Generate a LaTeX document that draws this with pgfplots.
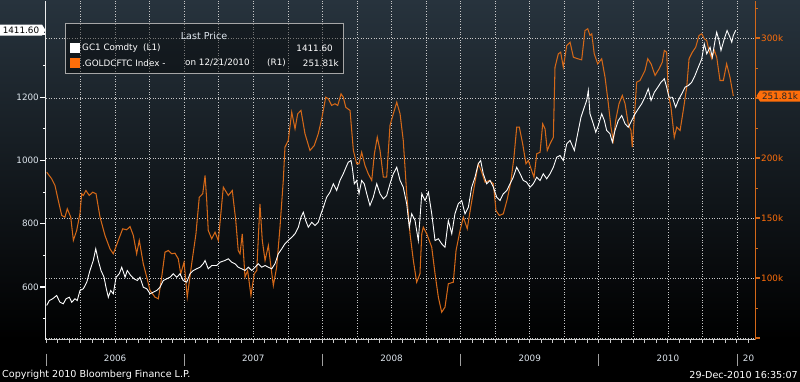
\documentclass[border=0pt]{standalone}
\usepackage{pgfplots}
\pgfplotsset{compat=1.18}
\usepackage{fontspec}
\setmainfont{DejaVu Sans}
\definecolor{bgtop}{RGB}{39,51,61}
\definecolor{cftc}{RGB}{212,104,24}
\definecolor{cftcbright}{RGB}{255,110,10}
\definecolor{gridc}{RGB}{200,200,200}
\definecolor{lbl}{RGB}{222,230,238}
\newcommand{\bbf}{\fontsize{8.8}{10}\selectfont}
\newcommand{\bbft}{\fontsize{9.6}{11}\selectfont}
\pgfplotstableread{
t v
2006.005 541.8
2006.024 557.6
2006.048 563.0
2006.077 573.4
2006.101 552.2
2006.125 547.2
2006.145 563.0
2006.169 568.0
2006.186 552.2
2006.210 563.0
2006.226 557.6
2006.246 589.2
2006.270 594.6
2006.295 615.4
2006.318 652.4
2006.342 684.0
2006.360 721.0
2006.378 684.0
2006.398 652.4
2006.420 631.2
2006.434 599.6
2006.451 568.0
2006.468 589.2
2006.487 578.8
2006.507 631.2
2006.530 642.0
2006.548 662.8
2006.572 631.2
2006.588 652.4
2006.613 636.6
2006.637 626.2
2006.661 620.8
2006.680 631.2
2006.704 599.6
2006.729 594.6
2006.753 578.8
2006.776 583.8
2006.801 589.2
2006.825 599.6
2006.849 620.8
2006.873 626.2
2006.897 631.2
2006.921 642.0
2006.946 631.2
2006.970 642.0
2006.993 620.8
2007.018 615.4
2007.042 642.0
2007.066 652.4
2007.090 657.8
2007.114 662.8
2007.138 673.6
2007.151 684.0
2007.174 657.8
2007.199 668.2
2007.235 668.2
2007.259 678.6
2007.295 684.0
2007.319 689.4
2007.344 678.6
2007.368 673.6
2007.391 662.8
2007.416 657.8
2007.440 652.4
2007.464 662.8
2007.488 652.4
2007.512 662.8
2007.536 673.6
2007.561 662.8
2007.585 668.2
2007.609 662.8
2007.633 657.8
2007.657 673.6
2007.681 705.2
2007.706 721.0
2007.729 736.8
2007.753 747.2
2007.778 757.6
2007.802 768.4
2007.826 789.2
2007.845 820.8
2007.862 836.6
2007.879 810.4
2007.898 789.2
2007.923 805.0
2007.946 794.6
2007.970 805.0
2007.990 831.6
2008.007 852.4
2008.031 884.0
2008.055 899.8
2008.079 926.4
2008.103 905.2
2008.127 936.8
2008.151 958.0
2008.171 978.8
2008.187 994.6
2008.207 1000.0
2008.216 978.8
2008.231 926.4
2008.248 936.8
2008.265 894.8
2008.284 936.8
2008.303 926.4
2008.321 894.8
2008.344 857.8
2008.368 884.0
2008.393 926.4
2008.417 894.8
2008.441 879.0
2008.465 889.4
2008.489 926.4
2008.513 958.0
2008.538 978.8
2008.562 936.8
2008.585 915.6
2008.610 863.2
2008.629 789.2
2008.646 831.6
2008.670 810.4
2008.694 747.2
2008.719 894.8
2008.743 873.6
2008.767 899.8
2008.791 831.6
2008.815 747.2
2008.839 752.6
2008.863 736.8
2008.887 726.0
2008.911 810.4
2008.936 768.4
2008.959 831.6
2008.983 863.2
2009.008 873.6
2009.032 831.6
2009.056 852.4
2009.080 915.6
2009.104 947.2
2009.128 989.6
2009.145 1000.0
2009.164 958.0
2009.189 926.4
2009.213 936.8
2009.237 915.6
2009.261 884.0
2009.285 873.6
2009.309 894.8
2009.334 905.2
2009.358 926.4
2009.381 947.2
2009.406 978.8
2009.430 958.0
2009.454 936.8
2009.478 931.4
2009.502 915.6
2009.526 926.4
2009.551 947.2
2009.575 936.8
2009.598 958.0
2009.623 942.2
2009.647 958.0
2009.671 978.8
2009.695 1010.4
2009.719 1015.8
2009.743 1000.0
2009.768 1052.8
2009.792 1063.2
2009.823 1031.6
2009.847 1084.4
2009.871 1136.8
2009.895 1168.4
2009.912 1189.6
2009.924 1221.2
2009.936 1147.6
2009.960 1116.0
2009.978 1089.4
2009.996 1110.6
2010.021 1147.6
2010.040 1126.4
2010.057 1094.8
2010.081 1084.4
2010.098 1057.8
2010.117 1094.8
2010.141 1126.4
2010.166 1142.2
2010.190 1116.0
2010.213 1105.2
2010.238 1126.4
2010.262 1147.6
2010.286 1163.4
2010.310 1179.2
2010.334 1200.0
2010.358 1226.6
2010.378 1189.6
2010.402 1215.8
2010.427 1231.6
2010.450 1247.4
2010.474 1258.2
2010.491 1231.6
2010.508 1200.0
2010.532 1200.0
2010.556 1168.4
2010.575 1189.6
2010.600 1210.8
2010.624 1231.6
2010.648 1237.0
2010.672 1247.4
2010.696 1268.6
2010.720 1294.8
2010.745 1321.4
2010.763 1368.8
2010.781 1337.2
2010.805 1358.0
2010.821 1326.4
2010.841 1379.2
2010.853 1405.4
2010.870 1379.2
2010.884 1347.6
2010.908 1384.6
2010.928 1410.8
2010.949 1389.6
2010.962 1373.8
2010.973 1395.0
2010.991 1411.6
}\goldtable
\pgfplotstableread{
t r
2006.005 188.2
2006.041 182.7
2006.065 177.1
2006.089 164.6
2006.114 152.1
2006.137 150.7
2006.154 157.7
2006.179 150.7
2006.198 131.3
2006.222 139.6
2006.246 153.8
2006.258 170.2
2006.270 168.8
2006.289 172.9
2006.313 168.8
2006.338 171.5
2006.362 170.2
2006.391 150.7
2006.427 135.4
2006.463 124.3
2006.487 120.2
2006.523 131.3
2006.555 141.0
2006.584 140.2
2006.608 142.9
2006.632 135.4
2006.656 120.2
2006.675 131.3
2006.704 111.8
2006.729 100.7
2006.753 89.6
2006.789 84.0
2006.813 82.7
2006.837 100.7
2006.861 121.5
2006.885 122.9
2006.910 120.2
2006.933 120.7
2006.957 116.0
2006.975 103.5
2006.999 113.2
2007.022 84.0
2007.054 111.8
2007.085 136.8
2007.109 167.3
2007.134 170.2
2007.151 185.4
2007.163 164.6
2007.174 139.6
2007.199 132.7
2007.223 138.2
2007.247 131.3
2007.283 175.7
2007.319 168.8
2007.348 172.9
2007.373 147.9
2007.391 122.9
2007.404 120.2
2007.420 136.8
2007.440 100.7
2007.459 106.3
2007.483 85.4
2007.507 103.5
2007.525 106.3
2007.548 161.8
2007.565 131.3
2007.585 114.6
2007.609 127.1
2007.628 109.0
2007.645 93.8
2007.669 109.0
2007.693 142.3
2007.717 181.3
2007.729 209.0
2007.753 214.6
2007.778 238.2
2007.802 224.3
2007.821 236.8
2007.845 239.6
2007.874 220.2
2007.910 206.3
2007.941 210.4
2007.970 220.2
2007.995 232.7
2008.024 250.7
2008.043 249.3
2008.067 243.8
2008.091 245.2
2008.111 243.8
2008.135 253.5
2008.151 250.7
2008.169 242.3
2008.200 239.6
2008.224 206.3
2008.248 195.2
2008.265 195.2
2008.284 204.8
2008.308 193.8
2008.332 186.8
2008.357 181.3
2008.376 203.5
2008.397 217.3
2008.417 206.3
2008.441 184.0
2008.465 184.0
2008.489 227.1
2008.513 236.8
2008.538 246.5
2008.562 236.8
2008.585 214.6
2008.610 170.2
2008.634 136.8
2008.658 114.6
2008.682 96.5
2008.706 103.5
2008.719 136.8
2008.730 142.3
2008.755 136.8
2008.791 125.7
2008.815 103.5
2008.839 84.0
2008.863 71.5
2008.887 75.7
2008.911 95.2
2008.947 96.5
2008.967 122.9
2008.996 139.6
2009.020 150.7
2009.048 141.0
2009.073 159.0
2009.104 179.8
2009.128 195.2
2009.153 188.2
2009.177 179.8
2009.208 181.3
2009.237 178.5
2009.256 156.3
2009.280 152.1
2009.309 153.5
2009.338 166.0
2009.363 179.8
2009.386 200.7
2009.406 225.7
2009.425 225.7
2009.449 211.8
2009.473 195.2
2009.490 197.9
2009.514 189.6
2009.531 184.0
2009.551 203.5
2009.575 204.8
2009.594 228.5
2009.611 224.3
2009.627 206.3
2009.647 211.8
2009.671 217.3
2009.683 275.7
2009.707 286.8
2009.724 288.2
2009.743 275.7
2009.768 293.7
2009.792 296.5
2009.816 284.0
2009.842 282.9
2009.876 281.8
2009.900 306.2
2009.920 307.7
2009.936 302.1
2009.949 303.5
2009.967 286.8
2009.992 278.5
2010.021 282.7
2010.045 267.3
2010.069 245.2
2010.088 225.7
2010.105 214.6
2010.122 231.3
2010.146 245.2
2010.170 252.1
2010.190 245.2
2010.213 228.5
2010.233 222.9
2010.242 209.0
2010.262 242.3
2010.274 263.2
2010.298 264.6
2010.334 272.9
2010.354 282.7
2010.378 278.5
2010.407 268.8
2010.436 274.3
2010.459 279.8
2010.474 289.6
2010.491 288.2
2010.503 253.5
2010.522 242.3
2010.546 217.3
2010.564 225.7
2010.588 222.9
2010.611 239.6
2010.636 259.0
2010.653 282.7
2010.677 288.2
2010.701 292.3
2010.725 302.1
2010.745 303.5
2010.763 299.3
2010.781 297.9
2010.797 289.6
2010.817 282.7
2010.836 289.6
2010.853 284.0
2010.877 264.6
2010.901 264.6
2010.925 278.5
2010.949 267.3
2010.973 251.8
}\cftctable
\begin{document}
\begin{tikzpicture}[x=1pt,y=1pt]
\shade[top color=bgtop, bottom color=black] (0,381) rectangle (800,42);
\fill[black] (0,0) rectangle (800,42);
% right axis (CFTC) with grid
\begin{axis}[at={(46pt,42pt)}, anchor=south west,
  width=709pt, height=339pt, scale only axis,
  xmin=2006, xmax=2011.1302, ymin=48.75, ymax=331.25,
  axis y line*=right, axis x line*=bottom,
  x axis line style={draw=none},
  y axis line style={cftc, line width=1pt},
  xtick={2006.25,2006.5,2006.75,2007,2007.25,2007.5,2007.75,2008,2008.25,2008.5,2008.75,2009,2009.25,2009.5,2009.75,2010,2010.25,2010.5,2010.75,2011},
  xticklabels={}, xtick style={draw=none},
  ytick={50,100,150,200,250,300},
  yticklabels={,100k,150k,200k,,300k},
  minor ytick={75,125,175,225,275,325},
  tick align=outside, major tick length=5pt, minor tick length=3pt,
  ytick style={cftc, line width=1.2pt},
  minor y tick style={cftc, line width=0.8pt},
  yticklabel style={font=\bbf, text=cftcbright, inner sep=1pt},
  xmajorgrids, ymajorgrids,
  grid style={gridc, line width=0.7pt, dash pattern=on 1pt off 1.6pt},
]
\addplot[cftc, line width=1.05pt] table[x=t, y=r] {\cftctable};
\end{axis}
% left axis (gold)
\begin{axis}[at={(46pt,42pt)}, anchor=south west,
  width=709pt, height=339pt, scale only axis,
  xmin=2006, xmax=2011.1302, ymin=434.36, ymax=1505.6,
  axis y line*=left, axis x line=none,
  y axis line style={white!85!gray, line width=1pt},
  ytick={600,800,1000,1200,1400},
  yticklabels={600,800,1000,1200,},
  minor ytick={500,700,900,1100,1300},
  tick align=outside, major tick length=6pt, minor tick length=3pt,
  ytick style={white, line width=1.2pt},
  minor y tick style={white, line width=0.8pt},
  yticklabel style={font=\bbf, text=lbl, inner sep=1pt},
]
\addplot[white, line width=0.9pt] table[x=t, y=v] {\goldtable};
\end{axis}
% bottom axis with monthly ticks
\begin{axis}[at={(46pt,42pt)}, anchor=south west,
  width=709pt, height=339pt, scale only axis,
  xmin=2006, xmax=2011.1302, ymin=0, ymax=1,
  axis y line=none, axis x line*=bottom,
  x axis line style={gridc, line width=1pt},
  xtick={2006,2006.08333,...,2011.1},
  xticklabels={},
  tick align=outside, major tick length=3pt,
  xtick style={gridc, line width=0.8pt},
]
\end{axis}
% year separators and labels
\foreach \k in {0,...,5} \draw[gray!75, line width=0.9pt] ({46+138.2*\k},28) -- ++(0,-12);
\foreach \k/\yr in {0/2006,1/2007,2/2008,3/2009,4/2010}
  \node[font=\bbf, text=lbl] at ({115.1+138.2*\k},23) {\yr};
\node[font=\bbf, text=lbl] at (748.5,23) {20};
% legend box
\draw[fill=black, fill opacity=0.4, draw=gray!70!white, line width=0.9pt] (65,358) rectangle (343,308);
\node[font=\bbft, text=lbl] at (204,346) {Last Price};
\fill[white] (70,339) rectangle (80,329);
\fill[cftcbright] (70,324) rectangle (80,314);
\node[font=\bbf, text=white, anchor=west, inner sep=0pt] at (82,333.5) {GC1 Comdty};
\node[font=\bbf, text=white, anchor=west, inner sep=0pt] at (143,333.5) {(L1)};
\node[font=\bbf, text=white, anchor=east, inner sep=0pt] at (333,333.5) {1411.60};
\node[font=\bbf, text=white, anchor=west, inner sep=0pt] at (82,318.5) {.GOLDCFTC Index -};
\node[font=\bbf, text=white, anchor=west, inner sep=0pt] at (185,318.5) {on 12/21/2010};
\node[font=\bbf, text=white, anchor=west, inner sep=0pt] at (267,318.5) {(R1)};
\node[font=\bbf, text=white, anchor=east, inner sep=0pt] at (339,318.5) {251.81k};
% last-value markers
\fill[white] (0,357) -- (42,357) -- (45.5,351.3) -- (42,346) -- (0,346) -- cycle;
\node[font=\bbf, text=black, inner sep=0pt] at (21,351.5) {1411.60};
\fill[cftcbright] (760,291) -- (800,291) -- (800,280) -- (760,280) -- (756.5,285.6) -- cycle;
\node[font=\bbf, text=black!85, inner sep=0pt] at (780,285.5) {251.81k};
% footer
\node[font=\bbft, text=white, anchor=west, inner sep=0pt] at (2,7) {Copyright 2010 Bloomberg Finance L.P.};
\node[font=\bbft, text=white, anchor=east, inner sep=0pt] at (798,7) {29-Dec-2010 16:35:07};
\end{tikzpicture}
\end{document}
